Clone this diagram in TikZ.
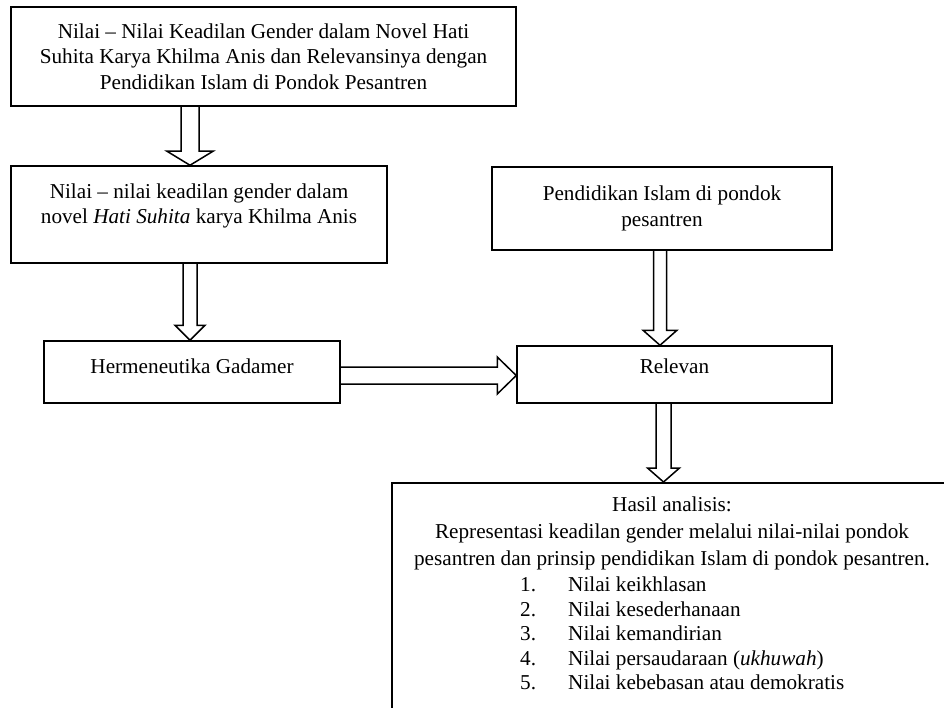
\documentclass[tikz,border=0pt]{standalone}
\usepackage{fontspec}
\setmainfont{Liberation Serif}
\usetikzlibrary{calc,positioning}

\tikzset{
  kotak/.style={draw, line width=1.5pt, align=center, inner sep=0pt},
  garispanah/.style={line width=1.5pt, line join=miter}
}

% panah blok: dari, ke, setengah lebar batang, setengah lebar kepala, panjang kepala
\newcommand{\panah}[5]{%
  \coordinate (pA) at (#1);
  \coordinate (pB) at (#2);
  \coordinate (pH) at ($(pB)!#5!(pA)$);
  \draw[garispanah] ($(pA)!#3!90:(pB)$) -- ($(pH)!#3!90:(pB)$) -- ($(pH)!#4!90:(pB)$) -- (pB)
    -- ($(pH)!#4!-90:(pB)$) -- ($(pH)!#3!-90:(pB)$) -- ($(pA)!#3!-90:(pB)$);
}

\begin{document}
\begin{tikzpicture}[x=1pt, y=-1pt, every node/.style={font=\fontsize{21.2}{25.5}\selectfont}]
\useasboundingbox (0,0) rectangle (944,708);
\clip (0,0) rectangle (944,708);

% kotak kiri
\node[kotak, minimum width=505pt, minimum height=99pt] (judul) at (263.5,56.5) {Nilai – Nilai Keadilan Gender dalam Novel Hati\\Suhita Karya Khilma Anis dan Relevansinya dengan\\Pendidikan Islam di Pondok Pesantren};
\node[kotak, minimum width=376pt, minimum height=97pt] (nilai) at (199,214.5) {Nilai – nilai keadilan gender dalam\\novel \textit{Hati Suhita} karya Khilma Anis\\[-4pt]~};
\node[kotak, minimum width=296pt, minimum height=62pt, text depth=12pt] (gadamer) at (192,372) {Hermeneutika Gadamer};

% kotak kanan
\node[kotak, minimum width=340pt, minimum height=83pt] (pendidikan) at (662,208.5) {Pendidikan Islam di pondok\\pesantren};
\node[kotak, minimum width=315pt, minimum height=57pt, text depth=16pt] (relevan) at (674.5,374.5) {Relevan};

% hasil
\node[kotak, anchor=north west, minimum width=562pt, minimum height=300pt] (hasil) at (391,482) {};
\node[anchor=north, align=center, inner sep=0pt, font=\fontsize{21.2}{27}\selectfont] (teksHasil) at (672,497) {Hasil analisis:\\Representasi keadilan gender melalui nilai-nilai pondok\\pesantren dan prinsip pendidikan Islam di pondok pesantren.};
\node[anchor=north west, align=left, inner sep=0pt, font=\fontsize{21.2}{24.5}\selectfont] (daftar) at (520,577) {\makebox[48pt][l]{1.}Nilai keikhlasan\\\makebox[48pt][l]{2.}Nilai kesederhanaan\\\makebox[48pt][l]{3.}Nilai kemandirian\\\makebox[48pt][l]{4.}Nilai persaudaraan (\textit{ukhuwah})\\\makebox[48pt][l]{5.}Nilai kebebasan atau demokratis};

% panah
\panah{$(judul.south)+(-73.5,0)$}{pA |- nilai.north}{9pt}{23pt}{14pt}
\panah{$(nilai.south)+(-9,0)$}{pA |- gadamer.north}{7pt}{15pt}{15pt}
\panah{$(gadamer.east)+(0,3.5)$}{pA -| relevan.west}{8.5pt}{18.5pt}{19pt}
\panah{$(pendidikan.south)+(-2,0)$}{pA |- relevan.north}{6.5pt}{17pt}{15pt}
\panah{$(relevan.south)+(-11,0)$}{pA |- hasil.north}{7.5pt}{16pt}{14pt}
\end{tikzpicture}
\end{document}
